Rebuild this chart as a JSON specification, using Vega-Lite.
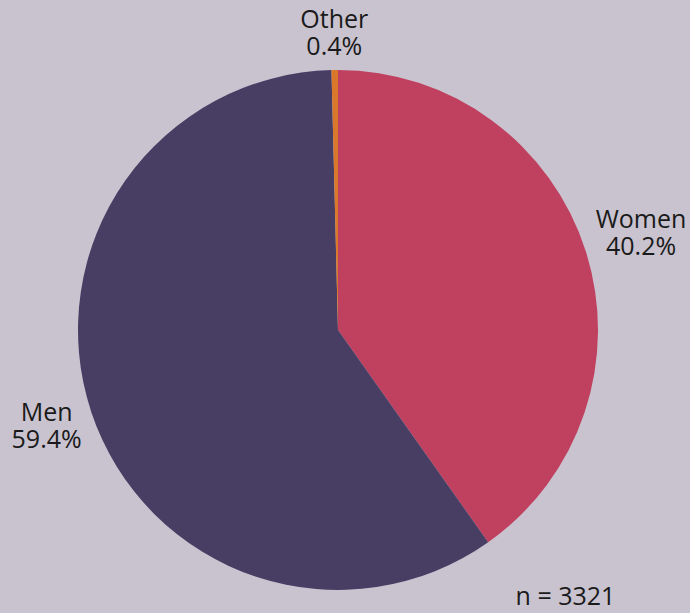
{
  "$schema": "https://vega.github.io/schema/vega-lite/v6.json",
  "autosize": {"type": "none"},
  "width": 676,
  "height": 566,
  "padding": {"left": 0, "top": 47, "right": 14, "bottom": 0},
  "background": "#c9c3cf",
  "config": {"view": {"stroke": null}, "font": "Open Sans"},
  "title": {"text": "n = 3321", "orient": "bottom", "anchor": "end", "dx": -71, "offset": -28, "fontSize": 25, "fontWeight": "normal", "color": "#1a1a1a", "font": "Open Sans"},
  "data": {"values": [
    {"cat": "Women", "value": 40.2, "ord": 1, "pct": "40.2%"},
    {"cat": "Men", "value": 59.4, "ord": 2, "pct": "59.4%"},
    {"cat": "Other", "value": 0.4, "ord": 3, "pct": "0.4%"}
  ]},
  "encoding": {
    "theta": {"field": "value", "type": "quantitative", "stack": true},
    "order": {"field": "ord", "type": "quantitative"}
  },
  "layer": [
    {
      "mark": {"type": "arc", "outerRadius": 260},
      "encoding": {
        "color": {"field": "cat", "type": "nominal", "legend": null,
          "scale": {"domain": ["Women", "Men", "Other"], "range": ["#c0405f", "#483e64", "#d9782a"]}}
      }
    },
    {
      "mark": {"type": "text", "fontSize": 25, "dy": -13.5, "color": "#1a1a1a", "align": "center", "baseline": "middle", "radius": 318},
      "encoding": {"text": {"condition": {"test": "datum.cat === 'Women'", "field": "cat"}, "value": ""}}
    },
    {
      "mark": {"type": "text", "fontSize": 25, "dy": 13.5, "color": "#1a1a1a", "align": "center", "baseline": "middle", "radius": 318},
      "encoding": {"text": {"condition": {"test": "datum.cat === 'Women'", "field": "pct"}, "value": ""}}
    },
    {
      "mark": {"type": "text", "fontSize": 25, "dy": -13.5, "color": "#1a1a1a", "align": "center", "baseline": "middle", "radius": 307},
      "encoding": {"text": {"condition": {"test": "datum.cat === 'Men'", "field": "cat"}, "value": ""}}
    },
    {
      "mark": {"type": "text", "fontSize": 25, "dy": 13.5, "color": "#1a1a1a", "align": "center", "baseline": "middle", "radius": 307},
      "encoding": {"text": {"condition": {"test": "datum.cat === 'Men'", "field": "pct"}, "value": ""}}
    },
    {
      "mark": {"type": "text", "fontSize": 25, "dy": -13.5, "color": "#1a1a1a", "align": "center", "baseline": "middle", "radius": 297},
      "encoding": {"text": {"condition": {"test": "datum.cat === 'Other'", "field": "cat"}, "value": ""}}
    },
    {
      "mark": {"type": "text", "fontSize": 25, "dy": 13.5, "color": "#1a1a1a", "align": "center", "baseline": "middle", "radius": 297},
      "encoding": {"text": {"condition": {"test": "datum.cat === 'Other'", "field": "pct"}, "value": ""}}
    }
  ]
}
